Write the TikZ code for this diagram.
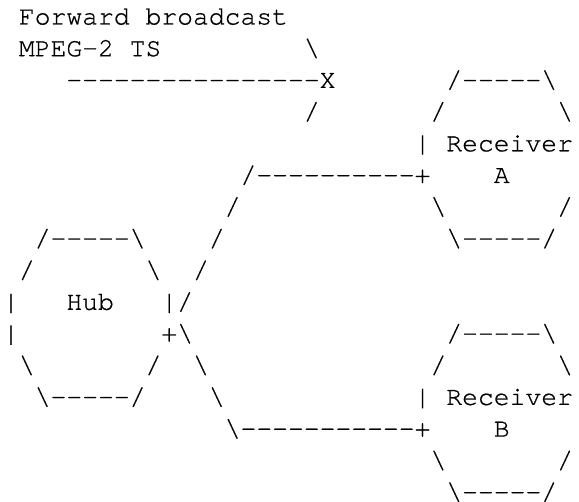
\documentclass[tikz,border=0pt]{standalone}
\usepackage{fontspec}
\setmonofont{TeX Gyre Cursor}[FakeBold=0.7]
\newcommand\bs{\textbackslash}
\tikzset{ascii/.style={anchor=base west, inner sep=0pt, outer sep=0pt, text=black,
  font=\ttfamily\fontsize{26.38}{31.7}\selectfont}}
\newcommand\place[4]{\node[ascii] (#1) at ({3.08+15.83*#2},{24.5+31.7*(#3-1)}) {#4};}
\begin{document}
\begin{tikzpicture}[x=1pt,y=-1pt]
\useasboundingbox[fill=white] (0,0) rectangle (579,502);
% line 1-2: label
\place{t1}{1}{1}{Forward broadcast}
\place{t2}{1}{2}{MPEG-2 TS}
\place{a2}{19}{2}{\bs}
% line 3
\place{a3}{4}{3}{----------------X}
\place{ra3}{28}{3}{/-----\bs}
% line 4
\place{a4}{19}{4}{/}
\place{ra4l}{27}{4}{/}
\place{ra4r}{35}{4}{\bs}
% line 5
\place{ra5b}{26}{5}{|}
\place{ra5t}{28}{5}{Receiver}
% line 6
\place{c6}{15}{6}{/----------+}
\place{ra6t}{31}{6}{A}
% line 7
\place{c7}{14}{7}{/}
\place{ra7l}{27}{7}{\bs}
\place{ra7r}{35}{7}{/}
% line 8
\place{h8}{2}{8}{/-----\bs}
\place{c8}{13}{8}{/}
\place{ra8}{28}{8}{\bs-----/}
% line 9
\place{h9l}{1}{9}{/}
\place{h9r}{9}{9}{\bs}
\place{c9}{12}{9}{/}
% line 10
\place{h10l}{0}{10}{|}
\place{h10t}{4}{10}{Hub}
\place{h10r}{10}{10}{|/}
% line 11
\place{h11l}{0}{11}{|}
\place{h11r}{10}{11}{+\bs}
\place{rb11}{28}{11}{/-----\bs}
% line 12
\place{h12l}{1}{12}{\bs}
\place{h12r}{9}{12}{/}
\place{c12}{12}{12}{\bs}
\place{rb12l}{27}{12}{/}
\place{rb12r}{35}{12}{\bs}
% line 13
\place{h13}{2}{13}{\bs-----/}
\place{c13}{13}{13}{\bs}
\place{rb13b}{26}{13}{|}
\place{rb13t}{28}{13}{Receiver}
% line 14
\place{c14}{14}{14}{\bs-----------+}
\place{rb14t}{31}{14}{B}
% line 15
\place{rb15l}{27}{15}{\bs}
\place{rb15r}{35}{15}{/}
% line 16
\place{rb16}{28}{16}{\bs-----/}
\end{tikzpicture}
\end{document}
